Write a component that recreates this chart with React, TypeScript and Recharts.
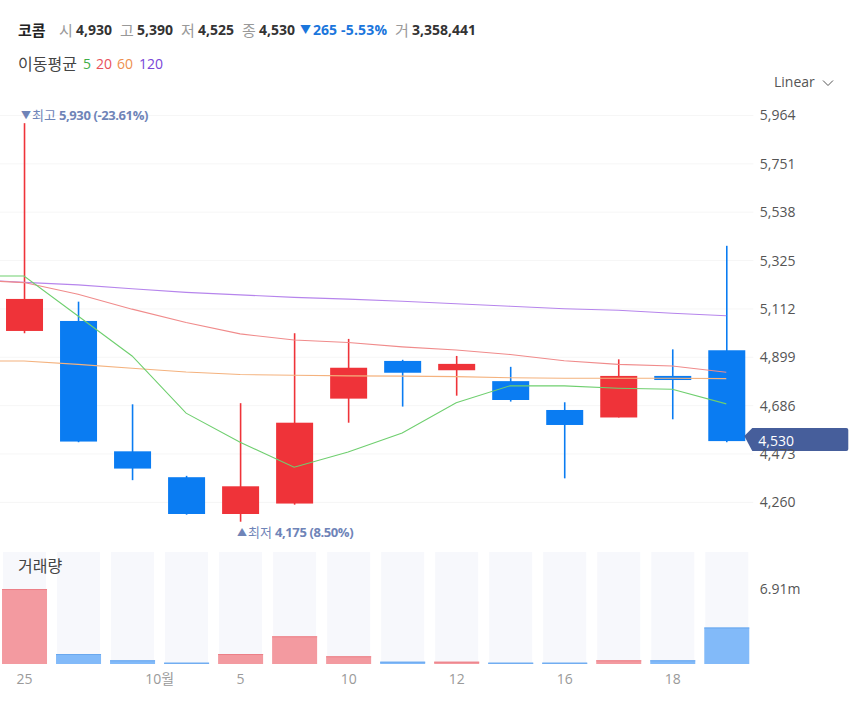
import React from "react";
import { Bar, CartesianGrid, ComposedChart, Line, ReferenceDot, XAxis, YAxis } from "recharts";

// index 0 is the session just before the visible window: only the moving averages have a value there
const sessions = [0, 1, 2, 3, 4, 5, 6, 7, 8, 9, 10, 11, 12, 13, 14];
const tickLabels = ["", "25", "", "", "10월", "5", "", "10", "", "12", "", "16", "", "18", ""];
const tickSessions = [1, 4, 5, 7, 9, 11, 13];

const opens = [null, 5015, 5059, 4485, 4371, 4209, 4255, 4717, 4883, 4842, 4794, 4667, 4634, 4817, 4930];
const highs = [null, 5930, 5144, 4692, 4377, 4697, 5005, 4980, 4888, 4905, 4857, 4701, 4890, 4934, 5390];
const lows = [null, 5005, 4525, 4358, 4206, 4175, 4250, 4611, 4682, 4730, 4704, 4366, 4634, 4626, 4525];
const closes = [null, 5156, 4528, 4409, 4209, 4331, 4611, 4853, 4831, 4870, 4711, 4601, 4817, 4799, 4530];
const volumes = [null, 6.91, 0.92, 0.34, 0.12, 0.92, 2.55, 0.71, 0.21, 0.21, 0.12, 0.12, 0.34, 0.34, 3.36];

const ma5 = [5257, 5257, 5081, 4905, 4653, 4525, 4415, 4482, 4566, 4699, 4774, 4773, 4763, 4758, 4694];
const ma20 = [5240, 5228, 5177, 5111, 5052, 5002, 4975, 4964, 4945, 4931, 4911, 4884, 4868, 4861, 4833];
const ma60 = [4883, 4883, 4868, 4851, 4834, 4823, 4820, 4817, 4816, 4814, 4809, 4807, 4807, 4807, 4805];
const ma120 = [5242, 5229, 5218, 5201, 5185, 5174, 5163, 5155, 5146, 5135, 5124, 5113, 5106, 5093, 5082];

const priceTicks = [4260, 4473, 4686, 4899, 5112, 5325, 5538, 5751, 5964];
const volumeTicks = [6.91];
const lastClose = 4530;

const rows = sessions.map((session, i) => ({
  session,
  open: opens[i],
  close: closes[i],
  range: highs[i] === null ? null : [lows[i], highs[i]],
  volume: volumes[i],
  ma5: ma5[i],
  ma20: ma20[i],
  ma60: ma60[i],
  ma120: ma120[i],
}));

const RED = "#ef3339";
const BLUE = "#0a7cf2";
const FONT = '"Open Sans", "Noto Sans CJK KR", sans-serif';

// the plot runs about 56px off the left of the page so the hidden session is cut off
const PRICE_LEFT = -56.8;
const VOLUME_LEFT = -57.3;
const CHART_WIDTH = 918.3;
const AXIS_WIDTH = 108;

const Candle = (props: any) => {
  const { x, y, width, height, payload } = props;
  if (!payload || !payload.range) return null;
  const [low, high] = payload.range;
  const perUnit = height / (high - low);
  const top = y + (high - Math.max(payload.open, payload.close)) * perUnit;
  const bottom = y + (high - Math.min(payload.open, payload.close)) * perUnit;
  const color = payload.close >= payload.open ? RED : BLUE;
  const mid = x + width / 2;
  return (
    <g>
      <line x1={mid} x2={mid} y1={y} y2={y + height} stroke={color} strokeWidth={1.6} />
      <rect x={x} y={top} width={width} height={Math.max(bottom - top, 1)} fill={color} />
    </g>
  );
};

const VolumeBar = (props: any) => {
  const { x, y, width, height, payload } = props;
  if (!payload || payload.volume === null) return null;
  const up = payload.close >= payload.open;
  return (
    <g>
      <rect x={x} y={y} width={width} height={height} fill={up ? "#f39aa0" : "#82baf9"} />
      <rect x={x} y={y} width={width} height={1} fill={up ? "#ec8088" : "#6aa8ee"} />
    </g>
  );
};

const VolumeBackground = (props: any) => {
  const { x, y, width, height, index } = props;
  return <rect key={index} x={x + 1} y={y} width={width - 2} height={height} fill="#f7f8fc" />;
};

const DateTick = (props: any) => {
  const { x, y, payload } = props;
  const label = tickLabels[payload.value];
  const shift = label === "10월" ? -26.5 : 0.5;
  return (
    <text x={x + shift} y={y} dy={12} textAnchor="middle" fontSize={14} fill="#9a9a9a" fontFamily={FONT}>
      {label}
    </text>
  );
};

const CloseTag = (props: any) => {
  const { cx, cy } = props;
  const left = cx + 18;
  return (
    <g>
      <path
        d={`M${left} ${cy - 5} L${left + 8} ${cy - 13} H${left + 102} Q${left + 104} ${cy - 13} ${left + 104} ${cy - 11}
          V${cy + 8} Q${left + 104} ${cy + 10} ${left + 102} ${cy + 10} H${left + 8} Z`}
        fill="#465e9b"
      />
      <text x={left + 14} y={cy + 5} fontSize={14} fill="#fff" fontFamily={FONT}>
        {lastClose.toLocaleString()}
      </text>
    </g>
  );
};

const Txt = ({ left, top, color = "#333", bold, size = 14, spacing = 0, children }: any) => (
  <span
    style={{
      position: "absolute",
      left,
      top,
      color,
      fontSize: size,
      fontWeight: bold ? 700 : 400,
      letterSpacing: spacing,
      lineHeight: "20px",
      whiteSpace: "nowrap",
    }}
  >
    {children}
  </span>
);

const App = () => {
  return (
    <div style={{ position: "absolute", left: 0, top: 0, width: 862, height: 702, overflow: "hidden", background: "#fff", fontFamily: FONT }}>
      <Txt left={18} top={20} bold color="#222" size={15}>코콤</Txt>
      <Txt left={59} top={20} color="#999" size={15}>시</Txt>
      <Txt left={76} top={20} bold>4,930</Txt>
      <Txt left={120} top={20} color="#999" size={15}>고</Txt>
      <Txt left={137} top={20} bold>5,390</Txt>
      <Txt left={181} top={20} color="#999" size={15}>저</Txt>
      <Txt left={198} top={20} bold>4,525</Txt>
      <Txt left={242} top={20} color="#999" size={15}>종</Txt>
      <Txt left={259} top={20} bold>4,530</Txt>
      <Txt left={300} top={20} color="#1b76dc" size={11}>▼</Txt>
      <Txt left={313} top={20} bold color="#1b76dc">265</Txt>
      <Txt left={341} top={20} bold color="#1b76dc" spacing={0.2}>-5.53%</Txt>
      <Txt left={395} top={20} color="#999" size={15}>거</Txt>
      <Txt left={412} top={20} bold>3,358,441</Txt>

      <Txt left={18} top={54} color="#444" size={16}>이동평균</Txt>
      <Txt left={83} top={54} color="#3fae49">5</Txt>
      <Txt left={96} top={54} color="#e8505b">20</Txt>
      <Txt left={117} top={54} color="#ee8f4f">60</Txt>
      <Txt left={139} top={54} color="#7a45d8">120</Txt>

      <Txt left={774} top={72} color="#555">Linear</Txt>
      <svg style={{ position: "absolute", left: 822, top: 79 }} width={12} height={8}>
        <path d="M1 1.5 L6 6.5 L11 1.5" fill="none" stroke="#555" strokeWidth={1} />
      </svg>

      <div style={{ position: "absolute", left: PRICE_LEFT, top: 100 }}>
        <ComposedChart
          width={CHART_WIDTH}
          height={445}
          data={rows}
          margin={{ top: 0, right: 0, bottom: 5, left: 0 }}
        >
          <CartesianGrid vertical={false} stroke="#f6f6f6" horizontalValues={priceTicks} />
          <XAxis dataKey="session" type="category" hide />
          <YAxis
            orientation="right"
            width={AXIS_WIDTH}
            domain={[4094.5, 6032]}
            ticks={priceTicks}
            interval={0}
            axisLine={false}
            tickLine={false}
            tickSize={0}
            tickMargin={6.5}
            tick={{ fontSize: 14, fill: "#555", fontFamily: FONT }}
            tickFormatter={(v: number) => v.toLocaleString()}
          />
          <Bar dataKey="range" barSize={37} shape={Candle} isAnimationActive={false} />
          <Line dataKey="ma120" stroke="#b685ec" strokeWidth={1.1} dot={false} activeDot={false} isAnimationActive={false} />
          <Line dataKey="ma60" stroke="#f4b27e" strokeWidth={1.1} dot={false} activeDot={false} isAnimationActive={false} />
          <Line dataKey="ma20" stroke="#f08b8b" strokeWidth={1.1} dot={false} activeDot={false} isAnimationActive={false} />
          <Line dataKey="ma5" stroke="#6fcf6f" strokeWidth={1.1} dot={false} activeDot={false} isAnimationActive={false} />
          <ReferenceDot x={14} y={lastClose} shape={CloseTag} />
        </ComposedChart>
      </div>

      <Txt left={21} top={105} color="#6f84b8" size={10}>▼</Txt>
      <Txt left={32} top={105} color="#6f84b8" size={13}>최고</Txt>
      <Txt left={59} top={105} bold color="#6f84b8" size={13} spacing={-0.4}>5,930 (-23.61%)</Txt>
      <Txt left={237} top={522} color="#6f84b8" size={10}>▲</Txt>
      <Txt left={248} top={522} color="#6f84b8" size={13}>최저</Txt>
      <Txt left={275} top={522} bold color="#6f84b8" size={13} spacing={-0.4}>4,175 (8.50%)</Txt>

      <div style={{ position: "absolute", left: VOLUME_LEFT, top: 552 }}>
        <ComposedChart
          width={CHART_WIDTH}
          height={150}
          data={rows}
          margin={{ top: 0, right: 0, bottom: 0, left: 0 }}
        >
          <XAxis
            dataKey="session"
            type="category"
            height={38}
            axisLine={false}
            tickLine={false}
            ticks={tickSessions}
            interval={0}
            tick={DateTick}
          />
          <YAxis
            orientation="right"
            width={AXIS_WIDTH}
            domain={[0, 10.32]}
            ticks={volumeTicks}
            interval={0}
            axisLine={false}
            tickLine={false}
            tickSize={0}
            tickMargin={6.5}
            tick={{ fontSize: 14, fill: "#555", fontFamily: FONT }}
            tickFormatter={(v: number) => `${v}m`}
          />
          <Bar dataKey="volume" barSize={45} background={VolumeBackground} shape={VolumeBar} isAnimationActive={false} />
        </ComposedChart>
      </div>

      <Txt left={18} top={556} color="#444" size={16}>거래량</Txt>
    </div>
  );
};

export default App;
